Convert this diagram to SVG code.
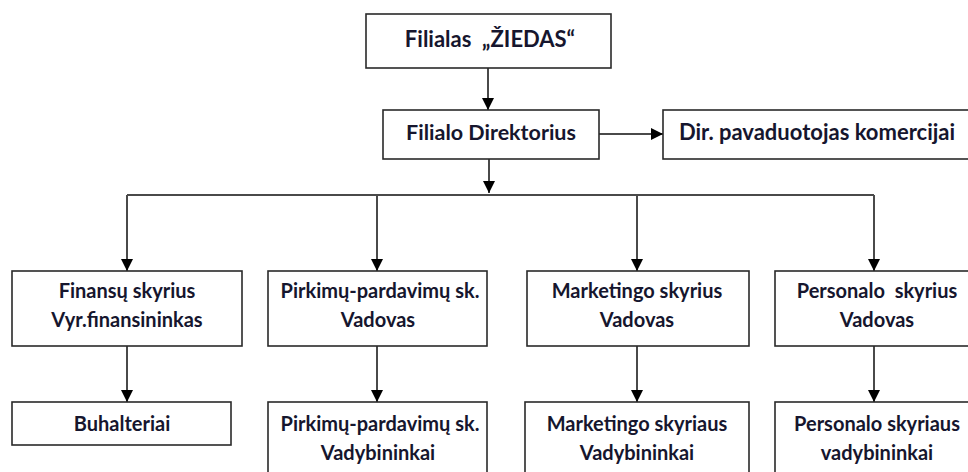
<svg xmlns="http://www.w3.org/2000/svg" width="968" height="472" viewBox="0 0 968 472">
  <defs>
    <marker id="arrow" viewBox="0 0 12 12" refX="12" refY="6" markerWidth="12" markerHeight="12" markerUnits="userSpaceOnUse" orient="auto">
      <path d="M0,0 L12,6 L0,12 Z" fill="#000"/>
    </marker>
    <style>
      .box { fill: #fff; stroke: #2a2a2a; stroke-width: 1.6; }
      .lbl { font-family: Lato, "Open Sans", "Liberation Sans", sans-serif; font-weight: bold; font-size: 20px; fill: #16162e; text-anchor: middle; }
      .big { font-size: 22px; }
      .conn { fill: none; stroke: #4a4a4a; stroke-width: 2; }
      .arr { marker-end: url(#arrow); }
    </style>
  </defs>
  <rect width="968" height="472" fill="#fff"/>

  <g id="connectors">
    <path class="conn arr" d="M488,68 V110"/>
    <path class="conn arr" d="M599,134 H663"/>
    <path class="conn arr" d="M489,159 V193"/>
    <path class="conn" d="M127,195 H874"/>
    <path class="conn arr" d="M127,195 V271"/>
    <path class="conn arr" d="M377,195 V271"/>
    <path class="conn arr" d="M637,195 V271"/>
    <path class="conn arr" d="M874,195 V271"/>
    <path class="conn arr" d="M127,346 V402"/>
    <path class="conn arr" d="M377,346 V402"/>
    <path class="conn arr" d="M637,346 V402"/>
    <path class="conn arr" d="M874,346 V402"/>
  </g>

  <g id="filialas">
    <rect class="box" x="366" y="14" width="245" height="54"/>
    <text class="lbl big" x="490" y="47" xml:space="preserve">Filialas  „ŽIEDAS“</text>
  </g>
  <g id="direktorius">
    <rect class="box" x="383" y="110" width="216" height="49"/>
    <text class="lbl" x="491" y="140" style="font-size:21.5px">Filialo Direktorius</text>
  </g>
  <g id="pavaduotojas">
    <rect class="box" x="663" y="110" width="320" height="49"/>
    <text class="lbl big" x="817" y="140">Dir. pavaduotojas komercijai</text>
  </g>

  <g id="finansu">
    <rect class="box" x="12" y="271" width="230" height="75"/>
    <text class="lbl" x="127" y="298">Finansų skyrius</text>
    <text class="lbl" x="127" y="327">Vyr.finansininkas</text>
  </g>
  <g id="pirkimu">
    <rect class="box" x="268" y="271" width="219" height="75"/>
    <text class="lbl" x="380" y="298">Pirkimų-pardavimų sk.</text>
    <text class="lbl" x="378" y="327">Vadovas</text>
  </g>
  <g id="marketingo">
    <rect class="box" x="527" y="271" width="222" height="75"/>
    <text class="lbl" x="637" y="298">Marketingo skyrius</text>
    <text class="lbl" x="637" y="327">Vadovas</text>
  </g>
  <g id="personalo">
    <rect class="box" x="775" y="271" width="210" height="75"/>
    <text class="lbl" x="877" y="298" xml:space="preserve">Personalo  skyrius</text>
    <text class="lbl" x="877" y="327">Vadovas</text>
  </g>

  <g id="buhalteriai">
    <rect class="box" x="12" y="402" width="219" height="43"/>
    <text class="lbl" x="122" y="431">Buhalteriai</text>
  </g>
  <g id="pirkimu-vadybininkai">
    <rect class="box" x="268" y="402" width="219" height="90"/>
    <text class="lbl" x="380" y="431">Pirkimų-pardavimų sk.</text>
    <text class="lbl" x="378" y="460">Vadybininkai</text>
  </g>
  <g id="marketingo-vadybininkai">
    <rect class="box" x="525" y="402" width="224" height="90"/>
    <text class="lbl" x="637" y="431">Marketingo skyriaus</text>
    <text class="lbl" x="637" y="460">Vadybininkai</text>
  </g>
  <g id="personalo-vadybininkai">
    <rect class="box" x="775" y="402" width="210" height="90"/>
    <text class="lbl" x="877" y="431">Personalo skyriaus</text>
    <text class="lbl" x="877" y="460">vadybininkai</text>
  </g>
</svg>
